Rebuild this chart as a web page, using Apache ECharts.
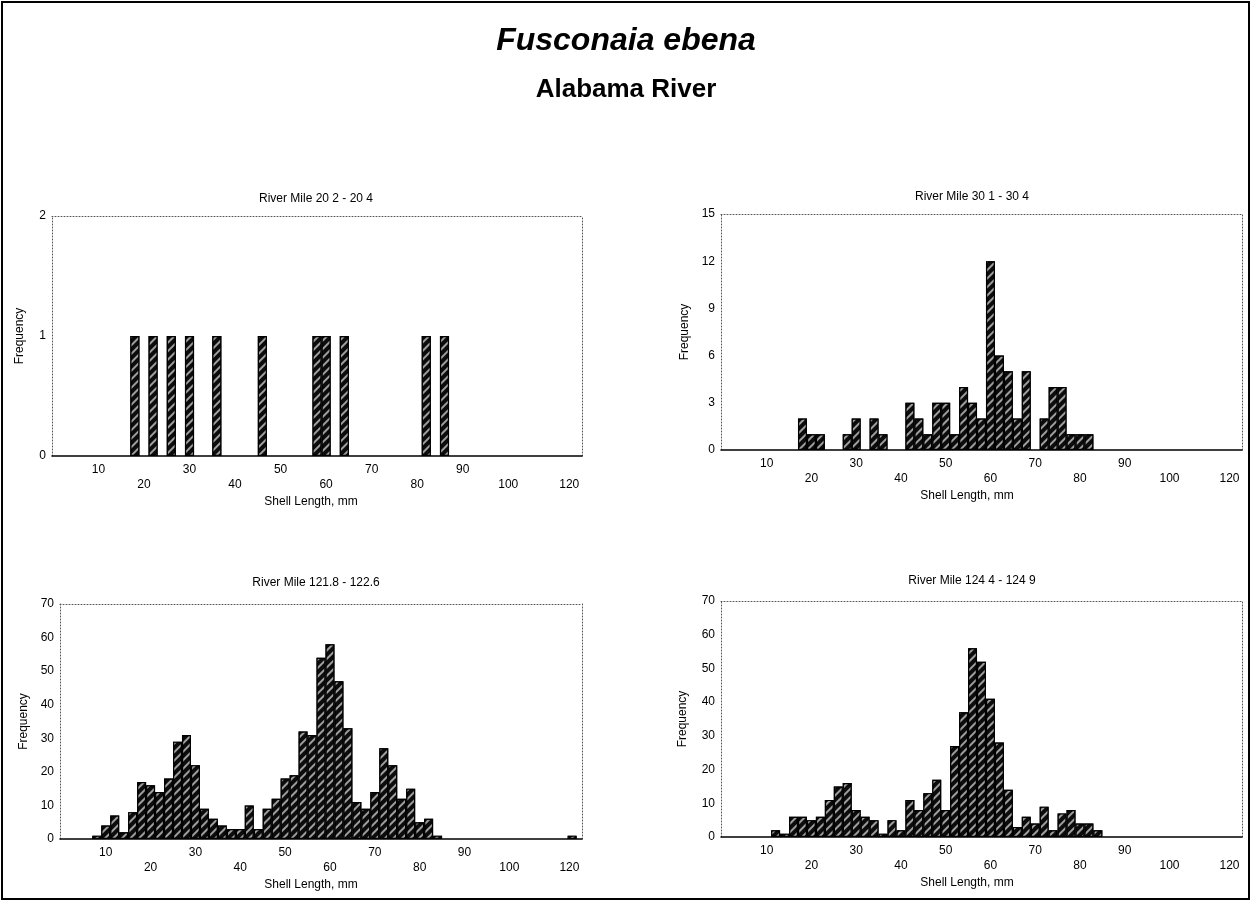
<!DOCTYPE html>
<html><head><meta charset="utf-8">
<script src="https://cdn.jsdelivr.net/npm/echarts@6/dist/echarts.min.js"></script>
<style>html,body{margin:0;padding:0;background:#fff}#c{width:1252px;height:903px}</style>
</head><body><div id="c"></div>
<script>
// Shell length bins (mm, bin centre) and frequencies
const rm20  = [[18,1],[22,1],[26,1],[30,1],[36,1],[46,1],[58,1],[60,1],[64,1],[82,1],[86,1]];
const rm30  = [[18,2],[20,1],[22,1],[28,1],[30,2],[34,2],[36,1],[42,3],[44,2],[46,1],[48,3],[50,3],[52,1],[54,4],[56,3],[58,2],[60,12],[62,6],[64,5],[66,2],[68,5],[72,2],[74,4],[76,4],[78,1],[80,1],[82,1]];
const rm121 = [[8,1],[10,4],[12,7],[14,2],[16,8],[18,17],[20,16],[22,14],[24,18],[26,29],[28,31],[30,22],[32,9],[34,6],[36,4],[38,3],[40,3],[42,10],[44,3],[46,9],[48,12],[50,18],[52,19],[54,32],[56,31],[58,54],[60,58],[62,47],[64,33],[66,11],[68,9],[70,14],[72,27],[74,22],[76,12],[78,15],[80,5],[82,6],[84,1],[114,1]];
const rm124 = [[12,2],[14,1],[16,6],[18,6],[20,5],[22,6],[24,11],[26,15],[28,16],[30,8],[32,6],[34,5],[36,1],[38,5],[40,2],[42,11],[44,8],[46,13],[48,17],[50,8],[52,27],[54,37],[56,56],[58,52],[60,41],[62,28],[64,14],[66,3],[68,6],[70,4],[72,9],[74,2],[76,7],[78,8],[80,4],[82,4],[84,2]];
const tickValues = [10,20,30,40,50,60,70,80,90,100,113.4];
const tickLabels = ['10','20','30','40','50','60','70','80','90','100','120'];
const panelTitles = ['River Mile 20 2 - 20 4','River Mile 30 1 - 30 4','River Mile 121.8 - 122.6','River Mile 124 4 - 124 9'];
const yMaxes = [2, 15, 70, 70];
const yIntervals = [1, 3, 10, 10];

const FONT = '"Liberation Sans", Arial, Helvetica, sans-serif';
const layout = [
  {left:52,  top:216, width:530, height:240, tx:311, ty:188, ygap:26},
  {left:721, top:214, width:521, height:236, tx:967, ty:186, ygap:30},
  {left:60,  top:604, width:522, height:235, tx:311, ty:572, ygap:30},
  {left:721, top:601, width:521, height:236, tx:967, ty:570, ygap:32}
];
const datasets = [rm20, rm30, rm121, rm124];

const grids = [], xAxes = [], yAxes = [], series = [];
const titles = [
  {text:'Fusconaia ebena', left:'center', top:20, textStyle:{fontSize:32, fontWeight:'bold', fontStyle:'italic', fontFamily:FONT, color:'#000'}},
  {text:'Alabama River', left:'center', top:72, textStyle:{fontSize:26, fontWeight:'bold', fontFamily:FONT, color:'#000'}}
];
const dotted = {color:'#555', width:1, type:[1,2]};

layout.forEach((L, i) => {
  grids.push({left:L.left, top:L.top, width:L.width, height:L.height, containLabel:false});
  titles.push({text:panelTitles[i], left:L.tx, top:L.ty, textAlign:'center', textStyle:{fontSize:12, fontWeight:'normal', fontFamily:FONT, color:'#000'}});
  const shift = (L.left + L.width/2) - L.tx;
  xAxes.push({
    gridIndex:i, type:'value', min:-0.2, max:116.2, position:'bottom',
    axisLine:{onZero:false, lineStyle:{color:'#000', width:1.5}},
    axisTick:{show:false}, splitLine:{show:false},
    axisLabel:{
      customValues:tickValues, margin:6, fontSize:12, lineHeight:15, color:'#000', fontFamily:FONT, hideOverlap:false,
      formatter:(v) => {
        let k = 0, best = 1e9;
        tickValues.forEach((t, j) => { if (Math.abs(t - v) < best) { best = Math.abs(t - v); k = j; } });
        const s = tickLabels[k];
        return (Number(s) / 10) % 2 === 1 ? s : '\n' + s;
      }
    },
    name:'Shell Length, mm', nameLocation:'middle', nameGap:40,
    nameTextStyle:{fontSize:12, color:'#000', fontFamily:FONT, padding:[0, 2*shift, 0, 0]}
  });
  xAxes.push({
    gridIndex:i, type:'value', min:-0.2, max:116.2, position:'top',
    axisLine:{onZero:false, lineStyle:dotted}, axisTick:{show:false}, axisLabel:{show:false}, splitLine:{show:false}
  });
  yAxes.push({
    gridIndex:i, type:'value', min:0, max:yMaxes[i], interval:yIntervals[i], position:'left',
    axisLine:{show:true, onZero:false, lineStyle:dotted}, axisTick:{show:false}, splitLine:{show:false},
    axisLabel:{margin:6, fontSize:12, color:'#000', fontFamily:FONT},
    name:'Frequency', nameLocation:'middle', nameGap:L.ygap, nameRotate:90,
    nameTextStyle:{fontSize:12, color:'#000', fontFamily:FONT}
  });
  yAxes.push({
    gridIndex:i, type:'value', min:0, max:yMaxes[i], position:'right',
    axisLine:{show:true, onZero:false, lineStyle:dotted}, axisTick:{show:false}, axisLabel:{show:false}, splitLine:{show:false}
  });
  series.push({
    type:'bar', xAxisIndex:2*i, yAxisIndex:2*i, data:datasets[i], barWidth:'100%', barGap:'0%',
    silent:true, animation:false,
    itemStyle:{color:'#0c0c0c', borderColor:'#000', borderWidth:1.2,
      decal:{symbol:'rect', symbolSize:1, color:'rgba(255,255,255,0.6)', dashArrayX:[1,0], dashArrayY:[1.5,3.5], rotation:-Math.PI/4}}
  });
});

const chart = echarts.init(document.getElementById('c'), null, {renderer:'canvas'});
chart.setOption({
  animation:false,
  backgroundColor:'#fff',
  title:titles,
  grid:grids, xAxis:xAxes, yAxis:yAxes, series:series,
  graphic:[{type:'rect', shape:{x:2, y:2, width:1247, height:897}, style:{fill:'none', stroke:'#000', lineWidth:2}, silent:true}]
});
</script></body></html>
